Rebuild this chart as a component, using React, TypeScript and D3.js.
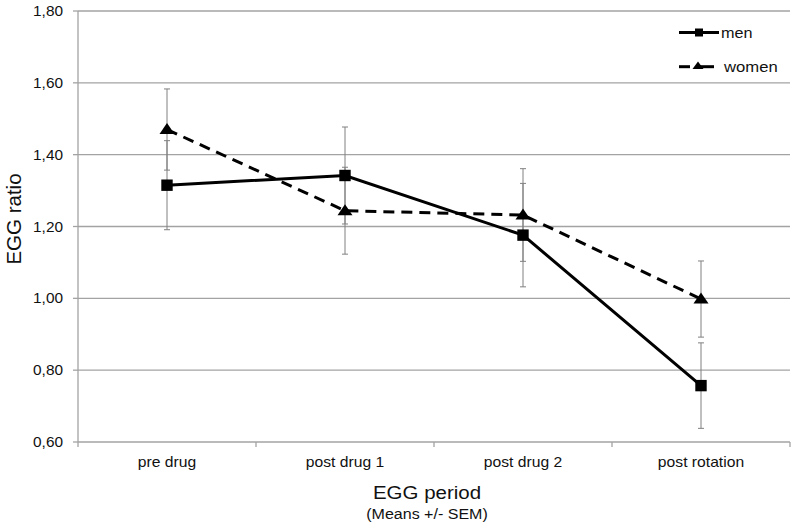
import React from "react";
import * as d3 from "d3";

const categories = ["pre drug", "post drug 1", "post drug 2", "post rotation"];
const menValues = [1.315, 1.342, 1.176, 0.757];
const menErrors = [0.124, 0.135, 0.144, 0.119];
const womenValues = [1.47, 1.244, 1.232, 0.998];
const womenErrors = [0.113, 0.121, 0.129, 0.106];
const yTicks = [0.6, 0.8, 1.0, 1.2, 1.4, 1.6, 1.8];

const W = 795;
const H = 526;
const left = 78;
const right = 790;
const top = 11;
const bottom = 442;
const FONT = "'Liberation Sans', Arial, sans-serif";

function SText(props: {
  x: number;
  y: number;
  size: number;
  sx?: number;
  anchor?: "start" | "middle" | "end";
  dy?: string;
  children: React.ReactNode;
}) {
  const { x, y, size, sx = 1.1, anchor = "start", dy, children } = props;
  return (
    <text
      transform={`translate(${x},${y}) scale(${sx},1)`}
      textAnchor={anchor}
      dy={dy}
      fontSize={size}
      fill="#111"
    >
      {children}
    </text>
  );
}

export default function App() {
  const x = d3.scaleBand<string>().domain(categories).range([left, right]).padding(0);
  const y = d3.scaleLinear().domain([0.6, 1.8]).range([bottom, top]);
  const cx = (c: string) => (x(c) as number) + x.bandwidth() / 2;
  const line = d3
    .line<number>()
    .x((_, i) => cx(categories[i]))
    .y((v) => y(v));
  const fmt = (v: number) => v.toFixed(2).replace(".", ",");
  const gridColor = "#a3a3a3";
  const errColor = "#808080";
  const tri = "M0,-6.5L7.5,4.5L-7.5,4.5Z";
  const triSmall = "M0,-4.5L5.5,3L-5.5,3Z";

  const series = [
    { name: "men", values: menValues, errors: menErrors, dash: undefined as string | undefined, marker: "square" },
    { name: "women", values: womenValues, errors: womenErrors, dash: "11,7", marker: "triangle" },
  ];

  return (
    <svg width={W} height={H} style={{ position: "absolute", left: 0, top: 0, background: "#fff" }} fontFamily={FONT}>
      <rect x={0} y={0} width={W} height={H} fill="#fff" />
      {/* gridlines */}
      {yTicks.map((t) => (
        <line key={"g" + t} x1={left} x2={right} y1={y(t)} y2={y(t)} stroke={gridColor} strokeWidth={1.3} />
      ))}
      {/* y axis */}
      <line x1={left} x2={left} y1={top} y2={bottom} stroke={gridColor} strokeWidth={1.3} />
      {yTicks.map((t) => (
        <g key={"t" + t}>
          <line x1={left - 5} x2={left} y1={y(t)} y2={y(t)} stroke={gridColor} strokeWidth={1.3} />
          <SText x={63} y={y(t)} dy="0.36em" anchor="end" size={14} sx={1.1}>
            {fmt(t)}
          </SText>
        </g>
      ))}
      {/* x axis ticks */}
      {categories.map((c, i) => (
        <line key={"xt" + i} x1={x(c) as number} x2={x(c) as number} y1={bottom} y2={bottom + 5} stroke={gridColor} strokeWidth={1.3} />
      ))}
      <line x1={right} x2={right} y1={bottom} y2={bottom + 5} stroke={gridColor} strokeWidth={1.3} />
      {categories.map((c) => (
        <SText key={"xl" + c} x={cx(c)} y={467} anchor="middle" size={14} sx={1.12}>
          {c}
        </SText>
      ))}
      {/* titles */}
      <SText x={427} y={498.5} anchor="middle" size={18.8} sx={1.09}>
        EGG period
      </SText>
      <SText x={427} y={518.5} anchor="middle" size={15} sx={1.07}>
        (Means +/- SEM)
      </SText>
      <text transform="translate(14,219) rotate(-90)" dy="0.35em" textAnchor="middle" fontSize={20.5} fill="#111">
        EGG ratio
      </text>
      {/* error bars */}
      {series.map((s) =>
        s.values.map((v, i) => {
          const px = cx(categories[i]);
          const y1 = y(v + s.errors[i]);
          const y2 = y(v - s.errors[i]);
          return (
            <g key={s.name + "e" + i} stroke={errColor} strokeWidth={1}>
              <line x1={px} x2={px} y1={y1} y2={y2} />
              <line x1={px - 3} x2={px + 3} y1={y1} y2={y1} />
              <line x1={px - 3} x2={px + 3} y1={y2} y2={y2} />
            </g>
          );
        })
      )}
      {/* lines */}
      {series.map((s) => (
        <path key={s.name + "l"} d={line(s.values) || ""} fill="none" stroke="#000" strokeWidth={3} strokeDasharray={s.dash} />
      ))}
      {/* markers */}
      {series.map((s) =>
        s.values.map((v, i) => {
          const px = cx(categories[i]);
          const py = y(v);
          return s.marker === "square" ? (
            <rect key={s.name + "m" + i} x={px - 5.7} y={py - 5.7} width={11.4} height={11.4} fill="#000" />
          ) : (
            <path key={s.name + "m" + i} d={tri} transform={`translate(${px},${py})`} fill="#000" />
          );
        })
      )}
      {/* legend */}
      <g>
        <line x1={679} x2={719} y1={32.5} y2={32.5} stroke="#000" strokeWidth={3} />
        <rect x={695} y={28.5} width={8} height={8} fill="#000" />
        <SText x={721} y={37.7} size={14.5} sx={1.12}>men</SText>
        <line x1={679} x2={690} y1={66.7} y2={66.7} stroke="#000" strokeWidth={3} />
        <line x1={697} x2={714} y1={66.7} y2={66.7} stroke="#000" strokeWidth={3} />
        <path d={triSmall} transform="translate(698,66)" fill="#000" />
        <SText x={724} y={71.5} size={14.5} sx={1.15}>women</SText>
      </g>
    </svg>
  );
}
